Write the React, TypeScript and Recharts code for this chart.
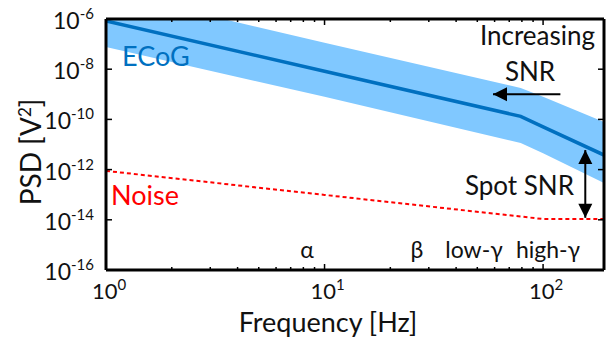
import {
  ComposedChart,
  Area,
  Line,
  XAxis,
  YAxis,
  ReferenceLine,
} from "recharts";

// frequency points (Hz) where the slopes change
const freqs = [1, 10, 79, 100, 190];
// ECoG PSD (V^2) and its spread
const ecog = [8.3e-7, 8.3e-9, 1.32e-10, 5.0e-11, 3.8e-12];
const ecogLow = [7.6e-8, 7.9e-10, 1.15e-11, 4.5e-12, 2.95e-13];
const ecogHigh = [1.26e-5, 1.12e-7, 1.78e-9, 7.9e-10, 7.9e-11];
// amplifier noise floor
const noise = [8.9e-13, 9.8e-14, 1.35e-14, 1.07e-14, 1.07e-14];

const xTicks = [1, 2, 3, 4, 5, 6, 7, 8, 9, 10, 20, 30, 40, 50, 60, 70, 80, 90, 100];
const yTicks = [1e-16, 1e-14, 1e-12, 1e-10, 1e-8, 1e-6];
const xDomain = [1, 190];
const yDomain = [1e-16, 1e-6];

// arrows: [freq, psd] start -> end
const snrArrow = [
  [120, 1.0e-9],
  [59, 1.0e-9],
];
const spotArrow = [
  [156, 6.0e-12],
  [156, 1.2e-14],
];

const bandLabels = [
  { text: "α", x: 307 },
  { text: "β", x: 417 },
  { text: "low-γ", x: 474 },
  { text: "high-γ", x: 548 },
];

const data = freqs.map((f, i) => ({
  f,
  ecog: ecog[i],
  band: [ecogLow[i], ecogHigh[i]],
  noise: noise[i],
}));

const FONT = "Lato, 'Open Sans', sans-serif";
const INK = "#111";

const isDecade = (v: number) => Math.abs(Math.log10(v) - Math.round(Math.log10(v))) < 1e-6;

const BottomTick = ({ x, y, payload }: any) => {
  const v = payload.value;
  const major = isDecade(v);
  const e = Math.round(Math.log10(v));
  return (
    <g>
      <line x1={x} x2={x} y1={y} y2={y - (major ? 6 : 3)} stroke="#000" strokeWidth={1.5} />
      {major && (
        <text x={x + 3} y={y + 29} textAnchor="middle" fontSize={22} fontFamily={FONT} fill={INK}>
          10
          <tspan dy={-9} fontSize={15}>
            {e}
          </tspan>
        </text>
      )}
    </g>
  );
};

const TopTick = ({ x, y, payload }: any) => {
  const major = isDecade(payload.value);
  return <line x1={x} x2={x} y1={y} y2={y + (major ? 6 : 3)} stroke="#000" strokeWidth={1.5} />;
};

const LeftTick = ({ x, y, payload }: any) => {
  const e = Math.round(Math.log10(payload.value));
  return (
    <g>
      <line x1={x} x2={x + 6} y1={y} y2={y} stroke="#000" strokeWidth={1.5} />
      <text x={x - 12} y={y + 10} textAnchor="end" fontSize={23} fontFamily={FONT} fill={INK}>
        10
        <tspan dy={-10} fontSize={15}>
          {e}
        </tspan>
      </text>
    </g>
  );
};

const RightTick = ({ x, y }: any) => (
  <line x1={x} x2={x - 6} y1={y} y2={y} stroke="#000" strokeWidth={1.5} />
);

// line with a filled head at the end (and optionally at the start)
const arrowShape = (both: boolean) => (props: any) => {
  const { x1, y1, x2, y2 } = props;
  const head = (tx: number, ty: number, fx: number, fy: number) => {
    const a = Math.atan2(ty - fy, tx - fx);
    const len = 14;
    const w = 7;
    const bx = tx - len * Math.cos(a);
    const by = ty - len * Math.sin(a);
    const px = -Math.sin(a) * w;
    const py = Math.cos(a) * w;
    return <polygon points={`${tx},${ty} ${bx + px},${by + py} ${bx - px},${by - py}`} fill="#000" />;
  };
  return (
    <g>
      <line x1={x1} y1={y1} x2={x2} y2={y2} stroke="#000" strokeWidth={2} />
      {head(x2, y2, x1, y1)}
      {both && head(x1, y1, x2, y2)}
    </g>
  );
};

const axisLine = { stroke: "#000", strokeWidth: 3 };

export default function App() {
  return (
    <div style={{ position: "absolute", left: 0, top: 0, width: 608, height: 339, background: "#fff" }}>
      <ComposedChart width={608} height={339} data={data} margin={{ top: 18, right: 3, left: 105, bottom: 68 }}>
        <XAxis
          dataKey="f"
          type="number"
          scale="log"
          domain={xDomain}
          allowDataOverflow
          ticks={xTicks}
          interval={0}
          height={1}
          tickSize={0}
          tickMargin={0}
          tick={<BottomTick />}
          axisLine={axisLine}
          tickLine={false}
        />
        <XAxis
          xAxisId="top"
          orientation="top"
          dataKey="f"
          type="number"
          scale="log"
          domain={xDomain}
          allowDataOverflow
          ticks={xTicks}
          interval={0}
          height={1}
          tickSize={0}
          tickMargin={0}
          tick={<TopTick />}
          axisLine={axisLine}
          tickLine={false}
        />
        <YAxis
          type="number"
          scale="log"
          domain={yDomain}
          allowDataOverflow
          ticks={yTicks}
          interval={0}
          width={1}
          tickSize={0}
          tickMargin={0}
          tick={<LeftTick />}
          axisLine={axisLine}
          tickLine={false}
        />
        <YAxis
          yAxisId="right"
          orientation="right"
          type="number"
          scale="log"
          domain={yDomain}
          allowDataOverflow
          ticks={yTicks}
          interval={0}
          width={1}
          tickSize={0}
          tickMargin={0}
          tick={<RightTick />}
          axisLine={axisLine}
          tickLine={false}
        />
        <Area
          dataKey="band"
          type="linear"
          stroke="none"
          fill="#80c8ff"
          fillOpacity={1}
          isAnimationActive={false}
        />
        <Line dataKey="ecog" type="linear" stroke="#0070c0" strokeWidth={3.5} dot={false} isAnimationActive={false} />
        <Line
          dataKey="noise"
          type="linear"
          stroke="#ff0000"
          strokeWidth={2}
          strokeDasharray="4 3"
          dot={false}
          isAnimationActive={false}
        />
        <ReferenceLine
          segment={[
            { x: snrArrow[0][0], y: snrArrow[0][1] },
            { x: snrArrow[1][0], y: snrArrow[1][1] },
          ]}
          shape={arrowShape(false)}
        />
        <ReferenceLine
          segment={[
            { x: spotArrow[0][0], y: spotArrow[0][1] },
            { x: spotArrow[1][0], y: spotArrow[1][1] },
          ]}
          shape={arrowShape(true)}
        />
      </ComposedChart>
      <svg
        width={608}
        height={339}
        style={{ position: "absolute", left: 0, top: 0, pointerEvents: "none" }}
      >
        <text x={122} y={66} fontSize={27} fontFamily={FONT} fill="#0070c0">
          ECoG
        </text>
        <text x={111} y={205} fontSize={27} fontFamily={FONT} fill="#ff0000">
          Noise
        </text>
        <text x={595} y={45} textAnchor="end" fontSize={26} fontFamily={FONT} fill={INK}>
          Increasing
        </text>
        <text x={530} y={81} textAnchor="middle" fontSize={26} fontFamily={FONT} fill={INK}>
          SNR
        </text>
        <text x={574} y={195} textAnchor="end" fontSize={26} fontFamily={FONT} fill={INK}>
          Spot SNR
        </text>
        {bandLabels.map((b) => (
          <text key={b.text} x={b.x} y={258} textAnchor="middle" fontSize={23} fontFamily={FONT} fill={INK}>
            {b.text}
          </text>
        ))}
        <text x={328} y={332} textAnchor="middle" fontSize={27} fontFamily={FONT} fill={INK}>
          Frequency [Hz]
        </text>
        <text
          x={41}
          y={152}
          textAnchor="middle"
          fontSize={28}
          fontFamily={FONT}
          fill={INK}
          transform="rotate(-90 41 152)"
        >
          PSD [V
          <tspan dy={-10} fontSize={17}>
            2
          </tspan>
          <tspan dy={10}>]</tspan>
        </text>
      </svg>
    </div>
  );
}
